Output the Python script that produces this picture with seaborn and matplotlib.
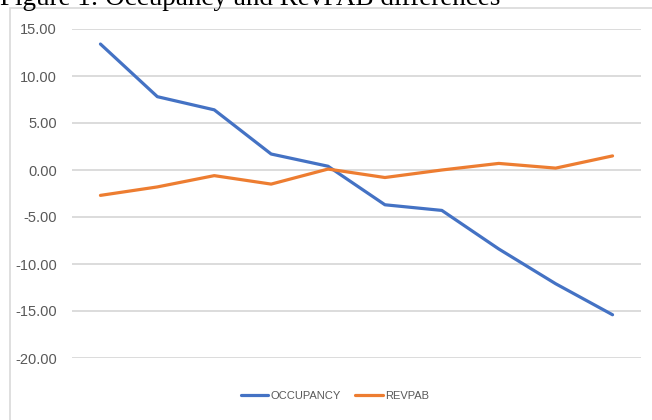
import pandas as pd
import seaborn as sns
import matplotlib.pyplot as plt
from matplotlib.patches import Rectangle

# Values (10 unlabelled periods)
periods = list(range(1, 11))
occupancy = [13.4, 7.8, 6.4, 1.7, 0.4, -3.7, -4.3, -8.4, -12.1, -15.4]
revpab = [-2.7, -1.8, -0.6, -1.5, 0.1, -0.8, 0.0, 0.7, 0.2, 1.5]
y_ticks = [15, 10, 5, 0, -5, -10, -15, -20]

sns.set_style("white")
plt.rcParams['font.family'] = ['Liberation Sans', 'DejaVu Sans']

df = pd.DataFrame({
    "period": periods * 2,
    "value": occupancy + revpab,
    "series": ["OCCUPANCY"] * len(periods) + ["REVPAB"] * len(periods),
})

fig = plt.figure(figsize=(6.52, 4.20), dpi=100)
W, H = 652, 420

# light chart border, cut at right and bottom like the screenshot
fig.patches.append(Rectangle((10 / W, -0.1), 1.2, 1 - 8 / H + 0.1, transform=fig.transFigure,
                             fill=False, edgecolor="#d9d9d9", linewidth=1.2))

ax = fig.add_axes([72 / W, 1 - 358 / H, (641 - 72) / W, (358 - 29) / H])
sns.lineplot(data=df, x="period", y="value", hue="series",
             palette={"OCCUPANCY": "#4472C4", "REVPAB": "#ED7D31"},
             linewidth=2.3, ax=ax, legend=False)

ax.set_xlim(0.5, 10.5)
ax.set_ylim(-20, 15)
ax.set_yticks(y_ticks)
ax.set_yticklabels([f"{v:.2f}" for v in y_ticks])
ax.set_xticks([])
ax.set_xlabel("")
ax.set_ylabel("")
ax.yaxis.grid(True, color="#d9d9d9", linewidth=1.3)
ax.set_axisbelow(True)
ax.tick_params(axis="y", length=0, pad=11, labelsize=10.5, labelcolor="#595959")
for s in ax.spines.values():
    s.set_visible(False)

handles = [plt.Line2D([], [], color="#4472C4", linewidth=2.3),
           plt.Line2D([], [], color="#ED7D31", linewidth=2.3)]
leg = fig.legend(handles, ["OCCUPANCY", "REVPAB"], loc="center",
                 bbox_to_anchor=(335 / W, 1 - 396 / H), ncol=2, frameon=False,
                 fontsize=8, handlelength=2.5, handletextpad=0.2, columnspacing=1.3)
for t in leg.get_texts():
    t.set_color("#595959")

# title, mostly cropped off at the top of the screenshot
fig.text(0.0, 1 - 5 / H, "Figure 1: Occupancy and RevPAB differences",
         family=["Liberation Serif", "DejaVu Serif"], fontsize=19.5,
         ha="left", va="baseline", color="black")

fig.savefig("out.png", dpi=100)
